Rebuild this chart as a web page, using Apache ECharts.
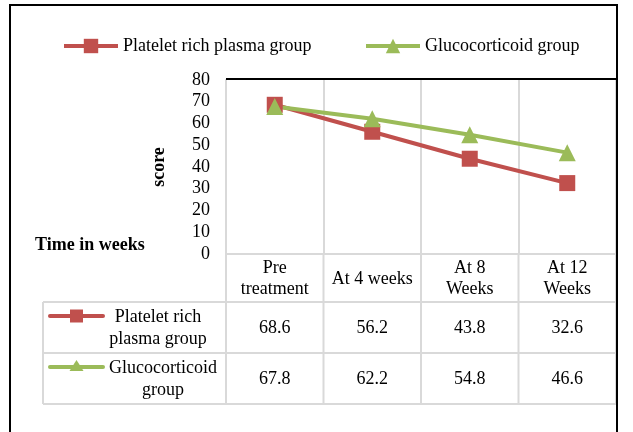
<!DOCTYPE html>
<html><head><meta charset="utf-8">
<script src="https://cdn.jsdelivr.net/npm/echarts@6/dist/echarts.min.js"></script>
<style>html,body{margin:0;padding:0;background:#fff}#c{width:633px;height:432px}</style>
</head><body><div id="c"></div>
<script>
const categories = ['Pre\ntreatment', 'At 4 weeks', 'At 8\nWeeks', 'At 12\nWeeks'];
const seriesNames = ['Platelet rich plasma group', 'Glucocorticoid group'];
const tableRowLabels = ['Platelet rich\nplasma group', 'Glucocorticoid\ngroup'];
const prpValues = [68.6, 56.2, 43.8, 32.6];
const glucoValues = [67.8, 62.2, 54.8, 46.6];
const yMin = 0, yMax = 80, yInterval = 10;
const yAxisTitle = 'score';
const xAxisTitle = 'Time in weeks';

const RED = '#c0504d', GREEN = '#9bbb59', GRID = '#d9d9d9';
const FONT = '"Liberation Serif", "Times New Roman", serif';
const FS = 18;
const G = { left: 226, top: 80, width: 390, height: 174 };
const rowsY = [254, 302, 353, 404];
const tableLeft = 43;
const colW = G.width / categories.length;

const chart = echarts.init(document.getElementById('c'), null, { renderer: 'canvas' });

const graphic = [];
graphic.push({ type: 'rect', shape: { x: 10, y: 5, width: 607, height: 440 }, style: { fill: 'none', stroke: '#000', lineWidth: 2 }, z: 100 });
graphic.push({ type: 'line', shape: { x1: G.left, y1: G.top - 1, x2: G.left + G.width + 1, y2: G.top - 1 }, style: { stroke: '#000', lineWidth: 2 }, z: 100 });
for (let i = 0; i <= categories.length; i++) {
  const x = G.left + i * colW;
  graphic.push({ type: 'line', shape: { x1: x, y1: rowsY[0], x2: x, y2: rowsY[3] }, style: { stroke: GRID, lineWidth: 2 } });
}
graphic.push({ type: 'line', shape: { x1: tableLeft, y1: rowsY[1], x2: tableLeft, y2: rowsY[3] }, style: { stroke: GRID, lineWidth: 2 } });
graphic.push({ type: 'line', shape: { x1: G.left, y1: rowsY[0], x2: G.left + G.width, y2: rowsY[0] }, style: { stroke: GRID, lineWidth: 2 } });
for (let r = 1; r <= 3; r++) {
  graphic.push({ type: 'line', shape: { x1: tableLeft, y1: rowsY[r], x2: G.left + G.width, y2: rowsY[r] }, style: { stroke: GRID, lineWidth: 2 } });
}
categories.forEach((c, i) => {
  graphic.push({ type: 'text', style: { text: c, x: G.left + (i + 0.5) * colW, y: (rowsY[0] + rowsY[1]) / 2 + 1, textAlign: 'center', textVerticalAlign: 'middle', font: FS + 'px ' + FONT, fill: '#000', lineHeight: 21 } });
});
[prpValues, glucoValues].forEach((vals, r) => {
  const cy = (rowsY[r + 1] + rowsY[r + 2]) / 2 + 1;
  vals.forEach((v, i) => {
    graphic.push({ type: 'text', style: { text: v.toFixed(1), x: G.left + (i + 0.5) * colW, y: cy, textAlign: 'center', textVerticalAlign: 'middle', font: FS + 'px ' + FONT, fill: '#000' } });
  });
  const color = r === 0 ? RED : GREEN;
  const sy = rowsY[r + 1] + 14;
  graphic.push({ type: 'line', shape: { x1: 50, y1: sy, x2: 103, y2: sy }, style: { stroke: color, lineWidth: 4, lineCap: 'round' } });
  if (r === 0) {
    graphic.push({ type: 'rect', shape: { x: 70, y: sy - 6.5, width: 13, height: 13 }, style: { fill: color } });
  } else {
    graphic.push({ type: 'polygon', shape: { points: [[76.5, sy - 7], [83.5, sy + 4], [69.5, sy + 4]] }, style: { fill: color } });
  }
  graphic.push({ type: 'text', style: { text: tableRowLabels[r], x: r === 0 ? 158 : 163, y: cy, textAlign: 'center', textVerticalAlign: 'middle', font: FS + 'px ' + FONT, fill: '#000', lineHeight: 22 } });
});
graphic.push({ type: 'text', style: { text: xAxisTitle, x: 35, y: 245, textVerticalAlign: 'middle', font: 'bold ' + FS + 'px ' + FONT, fill: '#000' } });

const legendCommon = { orient: 'horizontal', top: 37, padding: 0, itemWidth: 54, itemHeight: 18, itemGap: 5,
  lineStyle: { width: 4 }, textStyle: { fontFamily: FONT, fontSize: FS, color: '#000' } };

chart.setOption({
  animation: false,
  backgroundColor: '#fff',
  legend: [
    Object.assign({ left: 62, data: [seriesNames[0]] }, legendCommon),
    Object.assign({ left: 364, data: [seriesNames[1]] }, legendCommon)
  ],
  grid: G,
  xAxis: {
    type: 'category', data: categories, boundaryGap: true,
    axisLine: { lineStyle: { color: GRID, width: 2 } },
    axisTick: { show: false }, axisLabel: { show: false },
    splitLine: { show: true, lineStyle: { color: GRID, width: 2 } }
  },
  yAxis: {
    type: 'value', min: yMin, max: yMax, interval: yInterval,
    name: yAxisTitle, nameLocation: 'middle', nameRotate: 90, nameGap: 58,
    nameTextStyle: { fontFamily: FONT, fontSize: FS, fontWeight: 'bold', color: '#000' },
    axisLine: { show: true, lineStyle: { color: GRID, width: 2 } },
    axisTick: { show: false },
    axisLabel: { margin: 16, fontFamily: FONT, fontSize: FS, color: '#000' },
    splitLine: { show: false }
  },
  series: [
    { name: seriesNames[0], type: 'line', data: prpValues, symbol: 'rect', symbolSize: 16, lineStyle: { width: 4, color: RED }, itemStyle: { color: RED } },
    { name: seriesNames[1], type: 'line', data: glucoValues, symbol: 'triangle', symbolSize: 17, lineStyle: { width: 4, color: GREEN }, itemStyle: { color: GREEN }, z: 3 }
  ],
  graphic: graphic
});
</script></body></html>
